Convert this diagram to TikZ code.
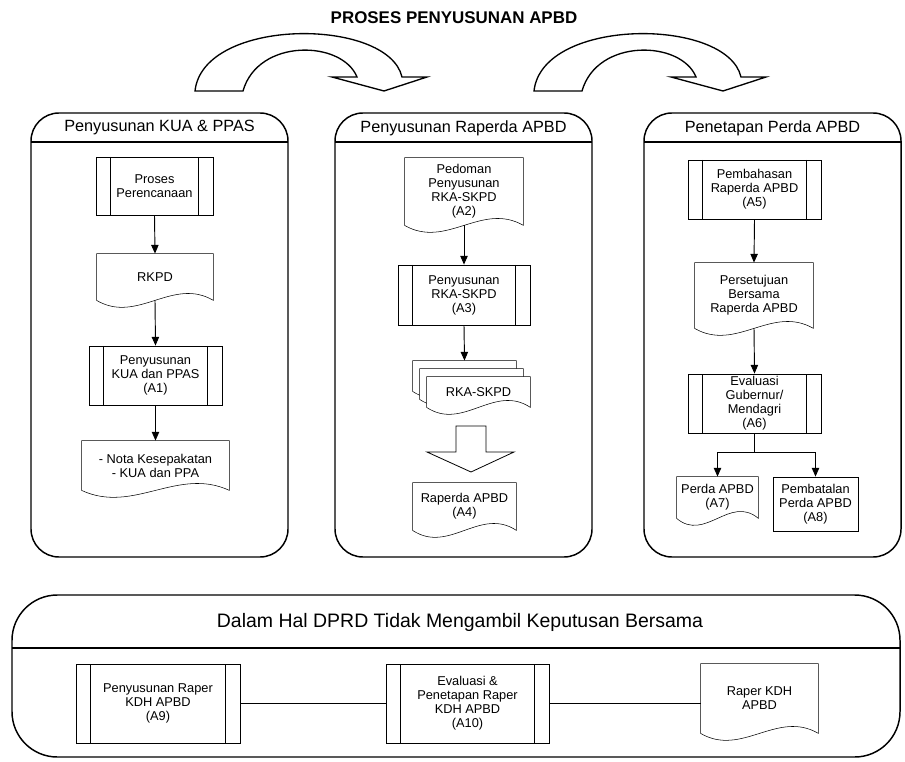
\documentclass[tikz,border=0pt]{standalone}
\usepackage{fontspec}
\setmainfont{Liberation Sans}
\usetikzlibrary{arrows.meta,calc,backgrounds}

\begin{document}
\begin{tikzpicture}[x=0.75pt, y=-0.75pt, line width=0.6pt,
  txt/.style={font=\fontsize{9.6}{10.5}\selectfont, align=center, inner sep=0pt},
  proc/.style={txt, draw, path picture={
      \draw ([xshift=11pt]path picture bounding box.north west) -- ([xshift=11pt]path picture bounding box.south west)
            ([xshift=-11pt]path picture bounding box.north east) -- ([xshift=-11pt]path picture bounding box.south east);}},
  doc/.style={txt},
  plainbox/.style={txt, draw},
  panel/.style={line width=1.1pt, rounded corners=21pt},
  head/.style={font=\fontsize{12.2}{14}\selectfont},
  arr/.style={-{Triangle[length=6.5pt,width=5.5pt]}, line width=0.7pt}]
  \useasboundingbox (0,0) rectangle (905,762);
  \node[font=\bfseries\fontsize{12.7}{15}\selectfont] (title) at (454,18) {PROSES PENYUSUNAN APBD};
  % curved arrows between stages
  \foreach \dx in {0,339}{
    \draw[line width=1pt] (195+\dx,91) .. controls (203+\dx,17) and (388+\dx,17) .. (402+\dx,77)
      -- (427+\dx,77) -- (384+\dx,91) -- (332+\dx,77) -- (357+\dx,77)
      .. controls (342+\dx,40) and (258+\dx,38) .. (243+\dx,91) -- cycle;}
  % panels
  \draw[panel] (31,113) rectangle (288,557);
  \draw[panel] (335,113) rectangle (592,557);
  \draw[panel] (644,113) rectangle (901,557);
  \draw[panel, rounded corners=34pt] (12,595) rectangle (900,757);
  \draw[line width=1.1pt] (31,142) -- (288,142) (335,142) -- (592,142) (644,142) -- (901,142) (12,648) -- (900,648);
  \node[head] (h1) at (159.5,128) {Penyusunan KUA \& PPAS};
  \node[head] (h2) at (463.5,128) {Penyusunan Raperda APBD};
  \node[head] (h3) at (772.5,128) {Penetapan Perda APBD};
  \node[font=\fontsize{14.6}{17}\selectfont] (h4) at (460,622) {Dalam Hal DPRD Tidak Mengambil Keputusan Bersama};
  % KUA & PPAS
  \node[proc, minimum width=87.75pt, minimum height=43.5pt] (p1) at (154.5,186) {Proses\\Perencanaan};
  \node[doc, minimum width=87pt, minimum height=34.5pt] (rkpd) at (155,277) {RKPD};
  \node[proc, minimum width=99.75pt, minimum height=44.25pt] (a1) at (155.5,375.5) {Penyusunan\\KUA dan PPAS\\(A1)};
  \node[doc, minimum width=110.25pt, minimum height=36.75pt] (nota) at (155.5,465.5) {- Nota Kesepakatan\\- KUA dan PPA};
  % Raperda
  \node[doc, minimum width=88.5pt, minimum height=50.25pt] (pedoman) at (464,191.5) {Pedoman\\Penyusunan\\RKA-SKPD\\(A2)};
  \node[proc, minimum width=99pt, minimum height=45pt] (a3) at (464,295) {Penyusunan\\RKA-SKPD\\(A3)};
  \node[doc, minimum width=77.25pt, minimum height=22.5pt] (rka3) at (464.5,376) {};
  \node[doc, minimum width=77.25pt, minimum height=22.5pt] (rka2) at (471.5,384) {};
  \node[doc, minimum width=77.25pt, minimum height=22.5pt] (rka) at (478.5,392) {RKA-SKPD};
  \draw (456,426) -- (486,426) -- (486,452) -- (514,452) -- (471,472) -- (427,452) -- (456,452) -- cycle;
  \node[doc, minimum width=77.25pt, minimum height=35.25pt] (raperda) at (464.5,506.5) {Raperda APBD\\(A4)};
  % Perda
  \node[proc, minimum width=99.75pt, minimum height=44.25pt] (a5) at (754.5,189.5) {Pembahasan\\Raperda APBD\\(A5)};
  \node[doc, minimum width=88.5pt, minimum height=48.75pt] (setuju) at (754,295.5) {Persetujuan\\Bersama\\Raperda APBD};
  \node[proc, minimum width=99.75pt, minimum height=44.25pt] (a6) at (754.5,403.5) {Evaluasi\\Gubernur/\\Mendagri\\(A6)};
  \node[doc, minimum width=60.75pt, minimum height=30.75pt] (a7) at (717.5,497.5) {Perda APBD\\(A7)};
  \node[plainbox, minimum width=63.75pt, minimum height=40.5pt] (a8) at (815.5,504) {Pembatalan\\Perda APBD\\(A8)};
  % no joint decision
  \node[proc, minimum width=123pt, minimum height=59.25pt] (a9) at (158,703.5) {Penyusunan Raper\\KDH APBD\\(A9)};
  \node[proc, minimum width=122.25pt, minimum height=59.25pt] (a10) at (467.5,703.5) {Evaluasi \&\\Penetapan Raper\\KDH APBD\\(A10)};
  \node[doc, minimum width=87.75pt, minimum height=51.75pt] (kdh) at (759.5,698.5) {Raper KDH\\APBD};
  % document outlines
  \begin{pgfonlayer}{background}
    \foreach \n in {rkpd,nota,pedoman,rka3,rka2,rka,raperda,setuju,a7,kdh}
      \draw[fill=white] (\n.south west) -- (\n.north west) -- (\n.north east) -- (\n.south east)
        .. controls ($(\n.south east)!0.35!(\n.south west)+(0,-24)$) and ($(\n.south east)!0.65!(\n.south west)+(0,24)$) .. (\n.south west) -- cycle;
  \end{pgfonlayer}
  % flow
  \draw[arr] (p1.south) -- (rkpd.north);
  \draw[arr] (rkpd.south) -- (a1.north);
  \draw[arr] (a1.south) -- (nota.north);
  \draw[arr] (pedoman.south) -- (a3.north);
  \draw[arr] (a3.south) -- (rka3.north);
  \draw[arr] (a5.south) -- (setuju.north);
  \draw[arr] (setuju.south) -- (a6.north);
  \draw[arr] (a6.south) -- ++(0,19) -| (a7.north);
  \draw[arr] (a6.south) -- ++(0,19) -| (a8.north);
  \draw (a9.east) -- (a10.west);
  \draw (a10.east) -- (a10.east -| kdh.west);
\end{tikzpicture}
\end{document}
